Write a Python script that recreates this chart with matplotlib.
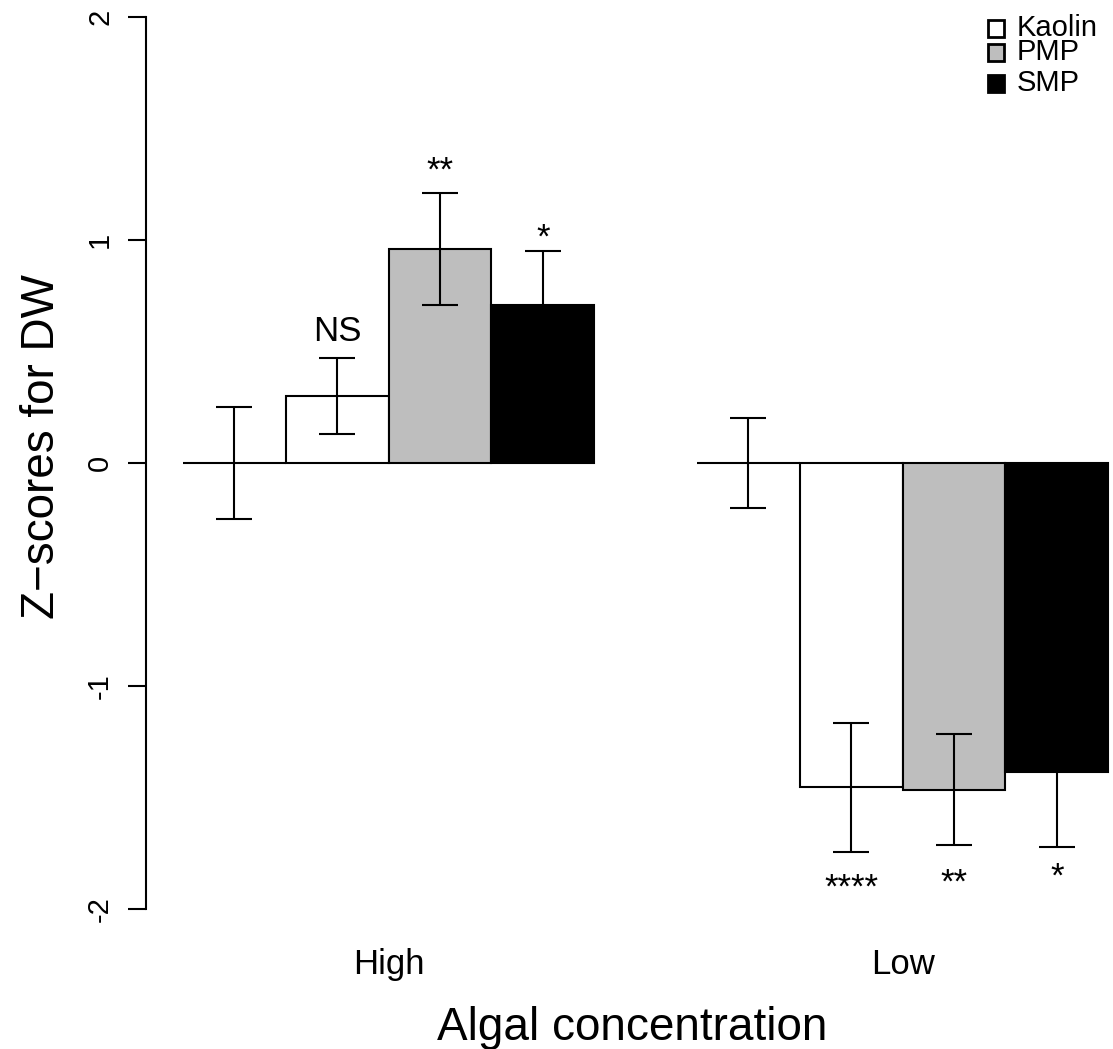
import matplotlib
matplotlib.use("Agg")
import matplotlib.pyplot as plt
from matplotlib.patches import Rectangle

plt.rcParams['font.family'] = ['Liberation Sans', 'DejaVu Sans']

groups = ["High", "Low"]
treatments = ["Control", "Kaolin", "PMP", "SMP"]
legend_labels = ["Kaolin", "PMP", "SMP"]
fills = ["white", "white", "#BEBEBE", "black"]

means_high = [0.0, 0.30, 0.96, 0.71]
errs_high = [0.25, 0.17, 0.25, 0.24]
means_low = [0.0, -1.455, -1.465, -1.385]
errs_low = [0.20, 0.29, 0.25, 0.335]
signif_high = ["", "NS", "**", "*"]
signif_low = ["", "****", "**", "*"]
ytick_vals = [-2, -1, 0, 1, 2]
ytick_labels = ["-2", "-1", "0", "1", "2"]

W, H = 1113, 1049
fig = plt.figure(figsize=(W / 100, H / 100), dpi=100)

px_per_x = 102.8
px_per_y = 223.0
ax_left_px, ax_right_px = 146, 1113
ax_top_px, ax_bot_px = 0, 945
ax = fig.add_axes([ax_left_px / W, 1 - ax_bot_px / H,
                   (ax_right_px - ax_left_px) / W, (ax_bot_px - ax_top_px) / H])
xmin = 0.64
ax.set_xlim(xmin, xmin + (ax_right_px - ax_left_px) / px_per_x)
ax.set_ylim(-2 - (ax_bot_px - 909) / px_per_y, 2 + (17 - ax_top_px) / px_per_y)

# label offsets from error-bar ends (styling)
label_offsets = [[0, 0.12, 0.098, 0.057], [0, -0.163, -0.168, -0.137]]

lw = 1.5
for gi, (means, errs, sig) in enumerate([(means_high, errs_high, signif_high),
                                          (means_low, errs_low, signif_low)]):
    start = 1 + gi * 5
    xs = [start + 0.5 + i for i in range(len(treatments))]
    ax.bar(xs, means, width=1.0, color=fills, edgecolor="black", linewidth=lw, zorder=2)
    ax.errorbar(xs, means, yerr=errs, fmt="none", ecolor="black", elinewidth=lw,
                capsize=13, capthick=lw, zorder=3)
    for i, (x, m, e, s) in enumerate(zip(xs, means, errs, sig)):
        if not s:
            continue
        end = m + e if m >= 0 else m - e
        ax.text(x, end + label_offsets[gi][i], s, ha="center", va="center",
                fontsize=25, zorder=4)

for side in ["top", "right", "bottom"]:
    ax.spines[side].set_visible(False)
ax.spines["left"].set_linewidth(lw)
ax.spines["left"].set_bounds(-2, 2)
ax.set_yticks(ytick_vals)
ax.set_yticklabels(ytick_labels, rotation=90, va="center", fontsize=21)
ax.tick_params(axis="y", length=13, width=lw, pad=10)
ax.set_xticks([3, 8])
ax.set_xticklabels(groups, fontsize=25)
ax.tick_params(axis="x", length=0, pad=2)

fig.text(632 / W, 1 - 1028 / H, "Algal concentration", ha="center", va="center",
         fontsize=33)
fig.text(42 / W, 1 - 447 / H, "Z\u2212scores for DW", ha="center", va="center",
         rotation=90, fontsize=33)

# legend
leg_y = [28, 52, 83]
for lab, col, yy in zip(legend_labels, fills[1:], leg_y):
    fig.patches.append(Rectangle((988 / W, 1 - (yy + 8.5) / H), 16 / W, 17 / H,
                                 transform=fig.transFigure, facecolor=col,
                                 edgecolor="black", linewidth=2))
    fig.text(1017 / W, 1 - yy / H, lab, ha="left", va="center", fontsize=21)

fig.savefig("out.png", dpi=100)
